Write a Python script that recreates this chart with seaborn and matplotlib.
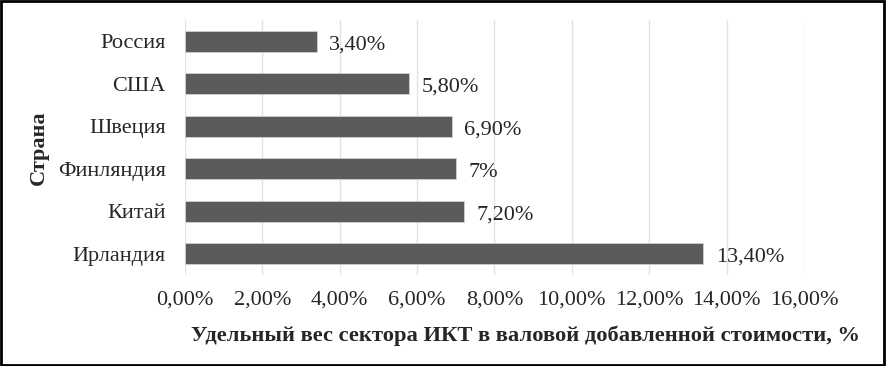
import matplotlib
matplotlib.use("Agg")
import matplotlib.pyplot as plt
import seaborn as sns
import pandas as pd
from matplotlib.patches import Rectangle

countries = ["Россия", "США", "Швеция", "Финляндия", "Китай", "Ирландия"]
values = [3.4, 5.8, 6.9, 7.0, 7.2, 13.4]
labels = ["3,40%", "5,80%", "6,90%", "7%", "7,20%", "13,40%"]
xticks = [0, 2, 4, 6, 8, 10, 12, 14, 16]
xticklabels = ["0,00%", "2,00%", "4,00%", "6,00%", "8,00%", "10,00%", "12,00%", "14,00%", "16,00%"]

sns.set_style("white")
plt.rcParams["font.family"] = ["Liberation Serif", "DejaVu Serif"]

df = pd.DataFrame({"country": countries, "value": values})

fig = plt.figure(figsize=(8.86, 3.66), dpi=100)
ax = fig.add_axes([0.2088, 0.2486, 0.6986, 0.6967])

sns.barplot(data=df, x="value", y="country", orient="h", color="#5b5b5b",
            saturation=1, width=0.5, edgecolor="#cfcfcf", linewidth=0.6, ax=ax, zorder=3)

ax.set_xlim(0, 16)
ax.set_ylim(5.5, -0.5)
ax.set_xticks(xticks)
ax.set_xticklabels(xticklabels, fontsize=16)
ax.tick_params(axis="y", labelsize=16, length=0, pad=14)
ax.tick_params(axis="x", length=0, pad=11)
ax.grid(axis="x", color="#dde4ec", linewidth=1, zorder=0)
ax.grid(axis="y", visible=False)
for s in ax.spines.values():
    s.set_visible(False)

for c in ax.containers:
    texts = ax.bar_label(c, labels=labels, padding=9, fontsize=16)
    for t in texts:
        ox, oy = t.xyann
        t.xyann = (ox, oy - 2.5)

ax.set_xlabel("Удельный вес сектора ИКТ в валовой добавленной стоимости, %",
              fontsize=16.2, fontweight="bold", labelpad=12)
ax.xaxis.label.set_x(0.55)
ax.set_ylabel("Страна", fontsize=16, fontweight="bold", labelpad=6)

fig.patches.append(Rectangle((0.001, 0.002), 0.997, 0.995, transform=fig.transFigure,
                             fill=False, edgecolor="black", linewidth=2))

fig.savefig("out.png", dpi=100)
